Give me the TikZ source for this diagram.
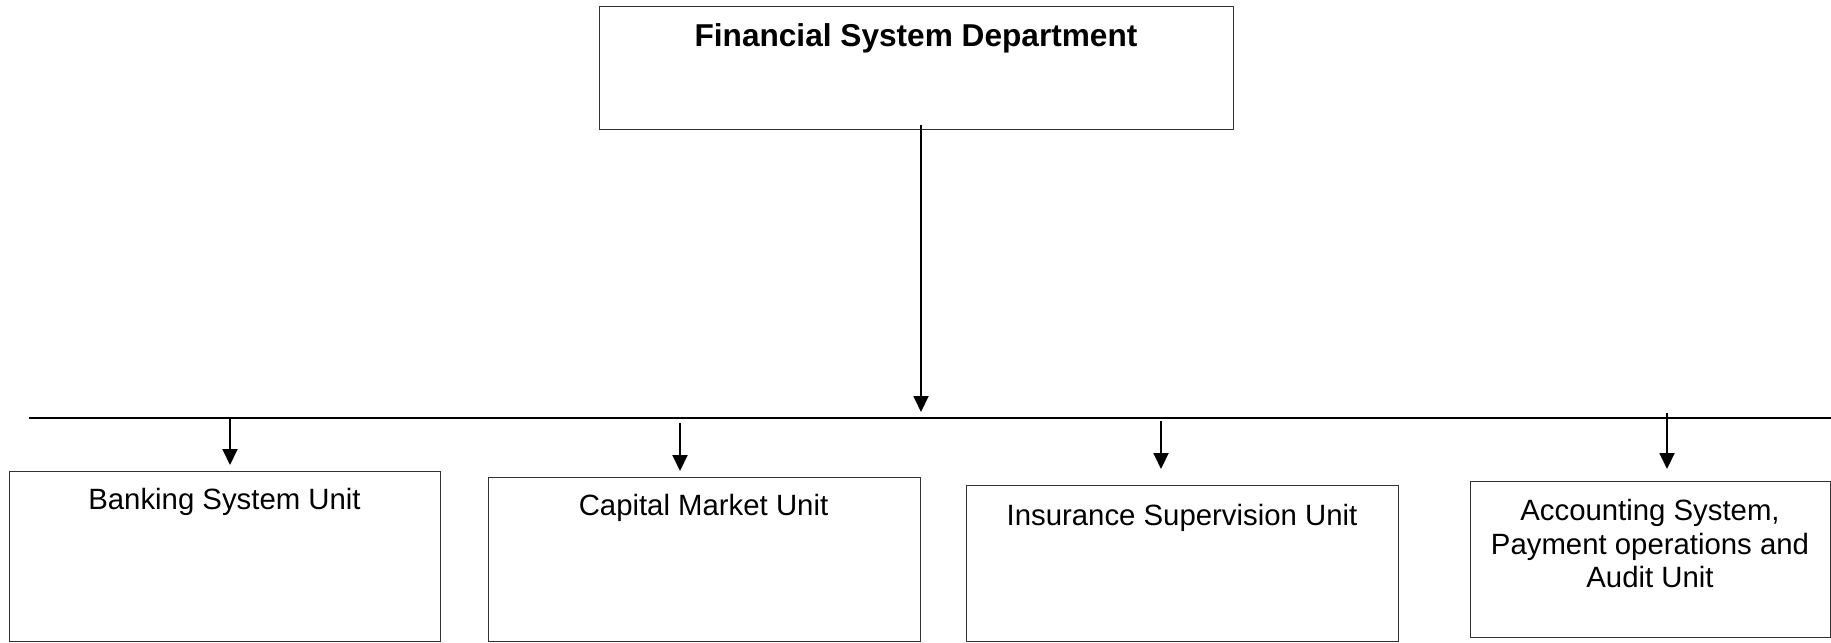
\documentclass[tikz,border=0pt]{standalone}
\usepackage{fontspec}
\setmainfont{Liberation Sans}
\usetikzlibrary{arrows.meta}
\begin{document}
\begin{tikzpicture}[x=0.02cm,y=-0.02cm,
  box/.style={draw=black!80, line width=0.8pt, rectangle, inner sep=0pt, anchor=north west},
  lbl/.style={anchor=base, inner sep=0pt, font=\fontsize{16.7}{19.1}\selectfont},
  title/.style={anchor=base, inner sep=0pt, font=\fontsize{18}{21}\selectfont\bfseries},
  conn/.style={draw=black, line width=1.1pt, -{Triangle[length=0.32cm,width=0.3cm]}},
  bus/.style={draw=black, line width=1.4pt}]
\useasboundingbox (0,0) rectangle (1831,642);
% boxes
\node[box, minimum width=12.68cm, minimum height=2.46cm] (top) at (599,6) {};
\node[box, minimum width=8.62cm, minimum height=3.40cm] (b1) at (9,471) {};
\node[box, minimum width=8.64cm, minimum height=3.28cm] (b2) at (488,477) {};
\node[box, minimum width=8.64cm, minimum height=3.12cm] (b3) at (966,485) {};
\node[box, minimum width=7.20cm, minimum height=3.12cm] (b4) at (1470,481) {};
% texts
\node[title] (ttop) at (916,47) {Financial System Department};
\node[lbl] (t1) at (224.5,509) {Banking System Unit};
\node[lbl] (t2) at (703.5,515) {Capital Market Unit};
\node[lbl] (t3) at (1182,525) {Insurance Supervision Unit};
\node[lbl] (t4a) at (1650,520) {Accounting System,};
\node[lbl] (t4b) at (1650,554) {Payment operations and};
\node[lbl] (t4c) at (1650,587) {Audit Unit};
% bus
\coordinate (busL) at (29,418);
\coordinate (busR) at (1831,418);
\draw[bus] (busL) -- (busR);
% connector coordinates
\coordinate (s0) at (921,125);
\coordinate (e0) at (921,412);
\coordinate (s1) at (230,418);
\coordinate (e1) at (230,465);
\coordinate (s2) at (680,423);
\coordinate (e2) at (680,471);
\coordinate (s3) at (1161,421);
\coordinate (e3) at (1161,469);
\coordinate (s4) at (1667,413);
\coordinate (e4) at (1667,469);
\draw[conn] (s0) -- (e0);
\draw[conn] (s1) -- (e1);
\draw[conn] (s2) -- (e2);
\draw[conn] (s3) -- (e3);
\draw[conn] (s4) -- (e4);
\end{tikzpicture}
\end{document}
